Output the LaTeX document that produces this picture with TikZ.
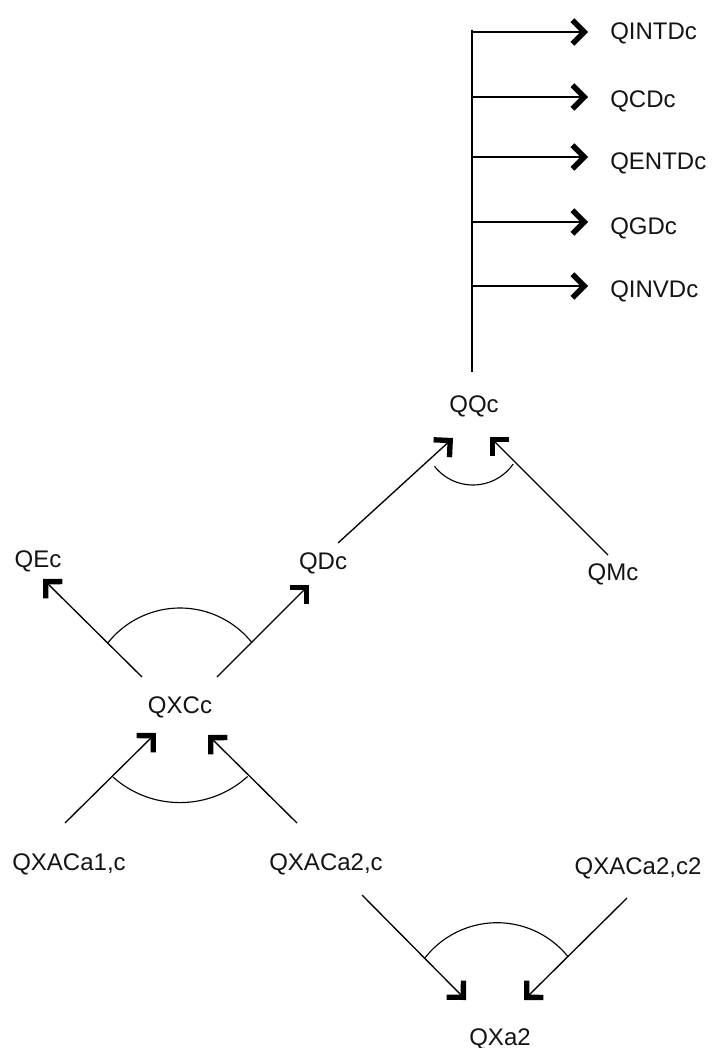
\documentclass[tikz,border=0pt]{standalone}
\usepackage{fontspec}
\setmainfont{Liberation Sans}
\usetikzlibrary{arrows.meta}
\begin{document}
\begin{tikzpicture}[x=0.75pt,y=-0.75pt,
  lbl/.style={anchor=base, inner sep=0pt, font=\fontsize{18}{20}\selectfont, text=black!92},
  rlbl/.style={lbl, anchor=base west},
  link/.style={line width=1pt, -{Straight Barb[angle=90:12.5pt, line width=4pt]}},
  trunk/.style={line width=1pt},
  bow/.style={line width=0.85pt}]
\useasboundingbox[fill=white] (0,0) rectangle (715,1048);

% labels
\node[rlbl] (QINTDc) at (610,40)  {QINTDc};
\node[rlbl] (QCDc)   at (610,108) {QCDc};
\node[rlbl] (QENTDc) at (610,170) {QENTDc};
\node[rlbl] (QGDc)   at (610,235) {QGDc};
\node[rlbl] (QINVDc) at (610,298) {QINVDc};
\node[lbl] (QQc)   at (474,412) {QQc};
\node[lbl] (QEc)   at (38,567)  {QEc};
\node[lbl] (QDc)   at (323,569) {QDc};
\node[lbl] (QMc)   at (613,580) {QMc};
\node[lbl] (QXCc)  at (180,713) {QXCc};
\node[lbl] (QXACa1c)  at (69,870)  {QXACa1,c};
\node[lbl] (QXACa2c)  at (326,870) {QXACa2,c};
\node[lbl] (QXACa2c2) at (638,874) {QXACa2,c2};
\node[lbl] (QXa2)  at (500,1045) {QXa2};

% connector end points
\coordinate (qq-top) at (472,372);
\coordinate (qq-up)  at (472,30);
\foreach \n/\y in {intd/32, cd/97, entd/157, gd/222, invd/286} {
  \coordinate (br-\n) at (472,\y);
  \coordinate (tip-\n) at (588,\y);
}
\coordinate (qd-out)  at (338,543);
\coordinate (qq-inL)  at (453,438);
\coordinate (qm-out)  at (608,555);
\coordinate (qq-inR)  at (490,437);
\coordinate (xc-outL) at (142,677);
\coordinate (qe-in)   at (43,579);
\coordinate (xc-outR) at (217,677);
\coordinate (qd-in)   at (309,585);
\coordinate (a1-out)  at (65,823);
\coordinate (xc-inL)  at (156,733);
\coordinate (a2-outL) at (297,823);
\coordinate (xc-inR)  at (208,735);
\coordinate (a2-outR) at (362,895);
\coordinate (xa-inL)  at (466,1000);
\coordinate (c2-out)  at (627,898);
\coordinate (xa-inR)  at (524,1000);

% distribution of QQc
\draw[trunk] (qq-top) -- (qq-up) -- (br-intd);
\foreach \n in {intd, cd, entd, gd, invd}
  \draw[link] (br-\n) -- (tip-\n);

% flows
\draw[link] (qd-out) -- (qq-inL);
\draw[link] (qm-out) -- (qq-inR);
\draw[link] (xc-outL) -- (qe-in);
\draw[link] (xc-outR) -- (qd-in);
\draw[link] (a1-out) -- (xc-inL);
\draw[link] (a2-outL) -- (xc-inR);
\draw[link] (a2-outR) -- (xa-inL);
\draw[link] (c2-out) -- (xa-inR);

% aggregation arcs
\draw[bow] (473,436) ++(142:49) arc[start angle=142, end angle=35, radius=49];
\draw[bow] (180,700) ++(218.4:92) arc[start angle=218.4, end angle=321.6, radius=92];
\draw[bow] (180,702) ++(131.8:100.6) arc[start angle=131.8, end angle=47.8, radius=100.6];
\draw[bow] (497,1014) ++(218:91.3) arc[start angle=218, end angle=321, radius=91.3];
\end{tikzpicture}
\end{document}
